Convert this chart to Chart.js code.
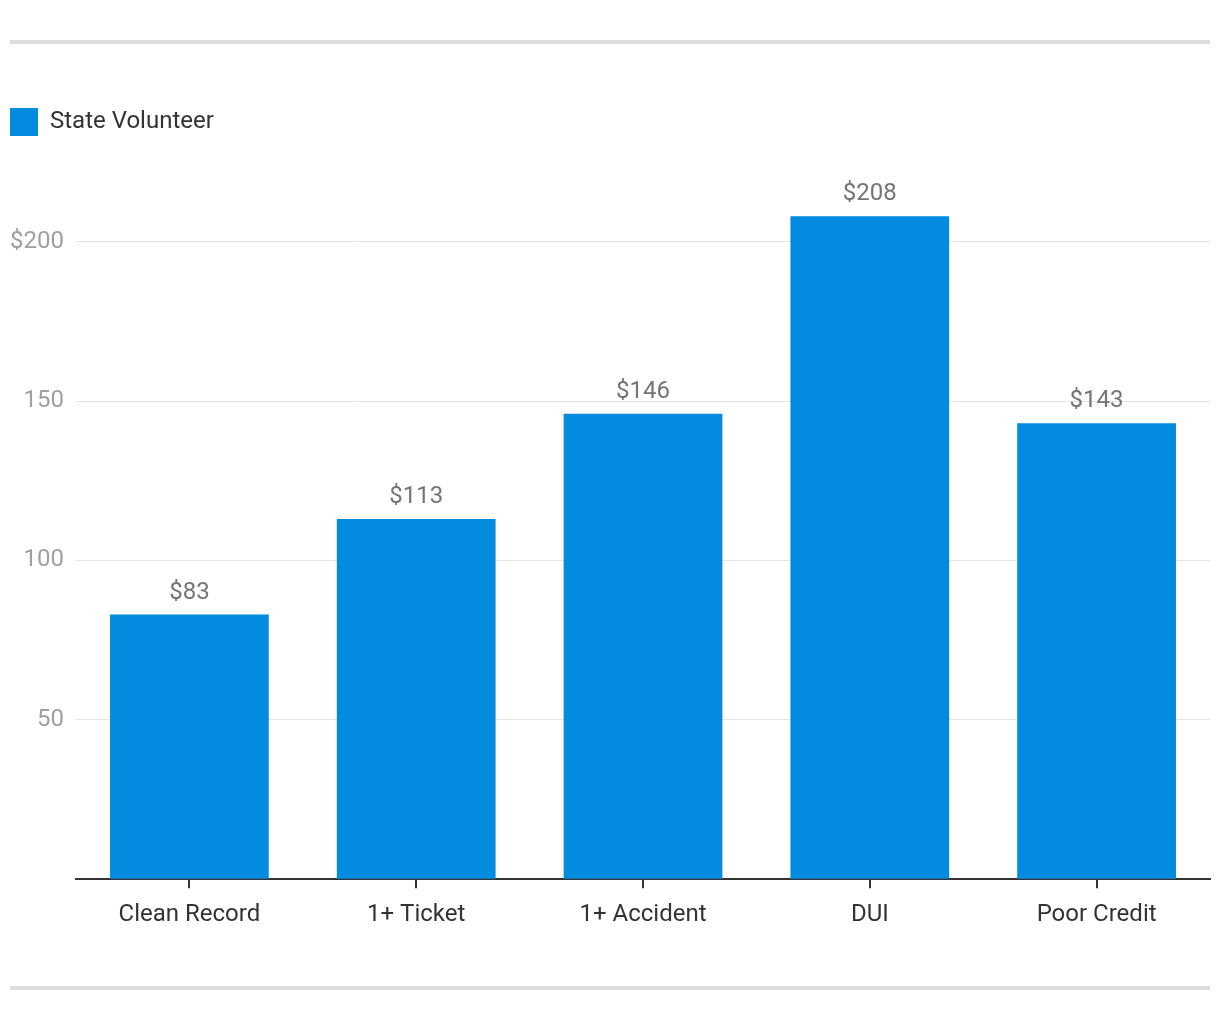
<!DOCTYPE html>
<html>
<head>
<meta charset="utf-8">
<script src="https://cdn.jsdelivr.net/npm/chart.js@4"></script>
<style>
html,body{margin:0;padding:0;background:#fff;}
#wrap{position:relative;width:1220px;height:1020px;}
canvas{display:block;}
</style>
</head>
<body>
<div id="wrap"><canvas id="c" width="1220" height="1020"></canvas></div>
<script>
const categories = ["Clean Record", "1+ Ticket", "1+ Accident", "DUI", "Poor Credit"];
const seriesName = "State Volunteer";
const values = [83, 113, 146, 208, 143];
const yTicks = [50, 100, 150, 200];

const frame = {
  id: 'frame',
  beforeDraw(chart) {
    const ctx = chart.ctx;
    ctx.save();
    ctx.fillStyle = '#dddddd';
    ctx.fillRect(10, 40, 1200, 4);
    ctx.fillRect(10, 986, 1200, 4);
    ctx.restore();
  }
};
const barLabels = {
  id: 'barLabels',
  afterDatasetsDraw(chart) {
    const ctx = chart.ctx;
    const meta = chart.getDatasetMeta(0);
    ctx.save();
    ctx.font = '24px Roboto';
    ctx.fillStyle = '#757575';
    ctx.textAlign = 'center';
    ctx.textBaseline = 'alphabetic';
    meta.data.forEach((bar, i) => {
      ctx.fillText('$' + values[i], bar.x, bar.y - 16);
    });
    ctx.restore();
  }
};

Chart.defaults.font.family = 'Roboto';
new Chart(document.getElementById('c'), {
  type: 'bar',
  data: {
    labels: categories,
    datasets: [{
      label: seriesName,
      data: values,
      backgroundColor: '#038cdf',
      borderWidth: 0,
      barPercentage: 0.7,
      categoryPercentage: 1.0
    }]
  },
  options: {
    responsive: false,
    animation: false,
    devicePixelRatio: 1,
    layout: { padding: { left: 10, right: 10, top: 108, bottom: 79 } },
    plugins: {
      legend: {
        display: true,
        position: 'top',
        align: 'start',
        labels: {
          boxWidth: 28, boxHeight: 28, padding: 0,
          color: '#333333',
          font: { size: 24, family: 'Roboto' }
        }
      },
      tooltip: { enabled: false }
    },
    scales: {
      x: {
        grid: { offset: false, drawOnChartArea: false, drawTicks: true, tickLength: 9, color: '#333333', lineWidth: 2 },
        border: { display: true, color: '#333333', width: 2 },
        ticks: { color: '#333333', font: { size: 24 }, padding: 12, maxRotation: 0 }
      },
      y: {
        min: 0, max: 230,
        afterFit(s) { s.width = 66; },
        afterBuildTicks(s) { s.ticks = [0].concat(yTicks).map(v => ({ value: v })); },
        grid: { color: '#e4e4e4', lineWidth: 1, drawTicks: false },
        border: { display: false },
        ticks: {
          color: '#a0a0a0', font: { size: 24 }, padding: 12,
          callback: v => v === 0 ? '' : (v === 200 ? '$' + v : '' + v)
        }
      }
    }
  },
  plugins: [frame, barLabels]
});
</script>
</body>
</html>
